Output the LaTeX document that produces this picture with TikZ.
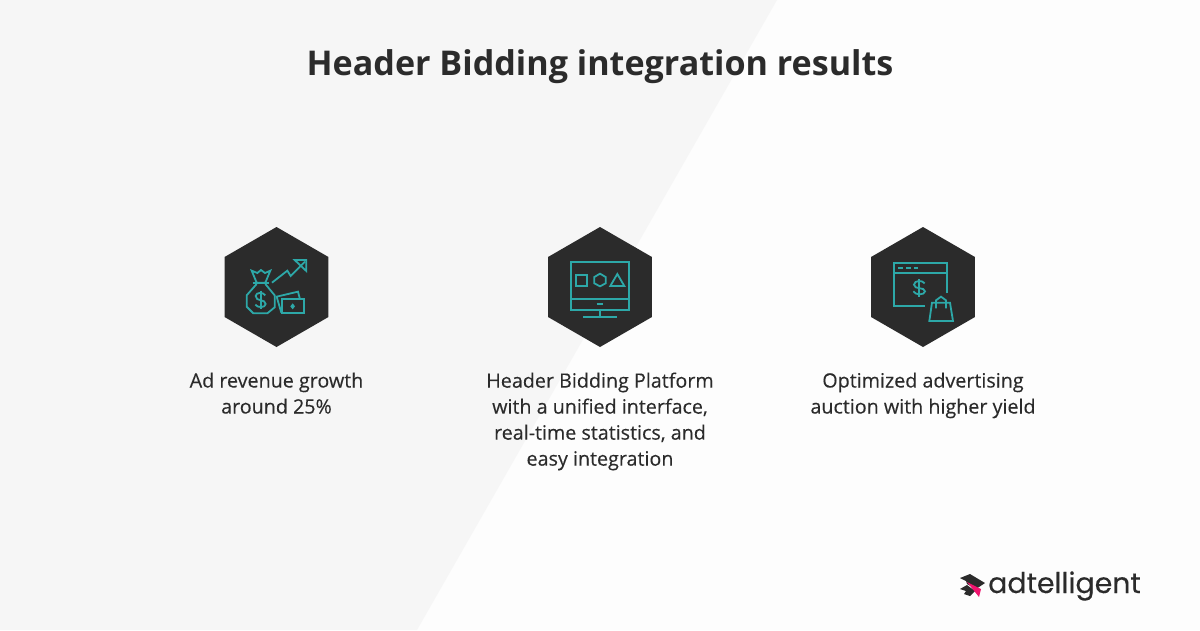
\documentclass[tikz,border=0pt]{standalone}
\usepackage{fontspec}
\usetikzlibrary{shapes.geometric}
\setmainfont{Open Sans}
\newfontfamily\bodyfont[FakeBold=0.25]{Open Sans}
\newfontfamily\logofont[FakeBold=0.2]{Poppins}
\definecolor{inkdark}{HTML}{2B2B2B}
\definecolor{iconteal}{HTML}{2DA8A8}
\definecolor{bgleft}{HTML}{F6F6F6}
\definecolor{bgright}{HTML}{FDFDFD}
\definecolor{logopink}{HTML}{F0146E}
\tikzset{
    hexbadge/.style={regular polygon, regular polygon sides=6, shape border rotate=30, minimum size=120pt, inner sep=0pt, fill=inkdark},
    caption/.style={align=center, text=inkdark, font=\bodyfont\fontsize{19.7}{26}\selectfont},
    icon/.style={draw=iconteal, line width=1.8pt, line join=miter},
}
\begin{document}
\begin{tikzpicture}[x=1pt, y=-1pt]
    \useasboundingbox (0,0) rectangle (1200,630);

    % Background
    \fill[bgright] (0,0) rectangle (1200,630);
    \fill[bgleft] (0,0) -- (777,0) -- (417,630) -- (0,630) -- cycle;

    % Title
    \node[text=inkdark, font=\fontsize{34.1}{40}\selectfont\bfseries] (title) at (600,67) {Header Bidding integration results};

    % Badges
    \node[hexbadge] (revenue) at (276.5,287) {};
    \node[hexbadge] (platform) at (600,287) {};
    \node[hexbadge] (auction) at (923,287) {};

    % Captions
    \node[caption, anchor=north] (revenuetext) at (276.5,369) {Ad revenue growth\\around 25\%};
    \node[caption, anchor=north] (platformtext) at (600,369) {Header Bidding Platform\\with a unified interface,\\real-time statistics, and\\easy integration};
    \node[caption, anchor=north] (auctiontext) at (923,369) {Optimized advertising\\auction with higher yield};

    % Icon: money bag and arrow
    \begin{scope}[shift={(210,220)}, x=0.3333pt, y=-0.3333pt]
        \draw[icon] (186,188) -- (232,152) -- (242,168) -- (285,125);
        \draw[icon] (254,120) -- (289,120) -- (289,153) -- cycle;
        \draw[icon] (125,152) -- (142,159) -- (153,150) -- (165,159) -- (181,152) -- (166,188) -- (140,188) -- cycle;
        \draw[icon] (128,190) -- (176,190);
        \draw[icon] (140,192) -- (110,226) -- (110,260) -- (130,280) -- (172,280) -- (194,262) -- (194,226) -- (166,192);
        \draw[icon] (166,226) .. controls (160,216) and (138,216) .. (137,228) .. controls (137,246) and (167,236) .. (167,252) .. controls (166,264) and (142,264) .. (136,254);
        \draw[icon] (152,212) -- (152,268);
        \draw[icon] (214,278) -- (200,230) -- (264,215) -- (270,238);
        \draw[icon] (216,238) rectangle (281,279);
        \fill[iconteal] (248,250) -- (255,259) -- (248,268) -- (241,259) -- cycle;
    \end{scope}

    % Icon: monitor
    \begin{scope}[shift={(535,220)}, x=0.3333pt, y=-0.3333pt]
        \draw[icon] (107,125) rectangle (283,269);
        \draw[icon] (107,238) -- (283,238);
        \draw[icon] (185,252) -- (204,252);
        \draw[icon] (195,269) -- (195,292);
        \draw[icon] (144,292) -- (245,292);
        \draw[icon] (123,165) rectangle (156,198);
        \draw[icon] (195,161) -- (212,171) -- (212,190) -- (195,199) -- (178,190) -- (178,171) -- cycle;
        \draw[icon] (247,162) -- (268,198) -- (226,198) -- cycle;
    \end{scope}

    % Icon: browser and shopping bag
    \begin{scope}[shift={(858,220)}, x=0.3333pt, y=-0.3333pt]
        \draw[icon] (268,220) -- (268,128) -- (108,128) -- (108,258) -- (202,258);
        \draw[icon] (108,159) -- (268,159);
        \draw[icon] (121,144) -- (134,144);
        \draw[icon] (145,144) -- (158,144);
        \draw[icon] (168,144) -- (181,144);
        \draw[icon] (200,190) .. controls (194,180) and (169,180) .. (168,194) .. controls (168,210) and (201,200) .. (201,214) .. controls (200,226) and (172,226) .. (166,214);
        \draw[icon] (184,178) -- (184,230);
        \draw[icon] (222,248) -- (276,248) -- (285,303) -- (214,303) -- cycle;
        \draw[icon] (234,265) -- (234,241) -- (249,230) -- (264,241) -- (264,265);
    \end{scope}

    % Logo
    \fill[inkdark] (960,578) -- (970,574) -- (985,583) -- (976,589) -- (967,584) -- (966,581) -- cycle;
    \fill[inkdark] (960,589) -- (967,585) -- (975,591) -- (970,596) -- (964,594) -- (966,591) -- cycle;
    \fill[logopink] (967,582) -- (981,589) -- (979,597) -- cycle;
    \node[text=inkdark, font=\logofont\fontsize{28.4}{34}\selectfont, anchor=base west, inner sep=0pt] (logotext) at (988,593) {adtelligent};
\end{tikzpicture}
\end{document}
